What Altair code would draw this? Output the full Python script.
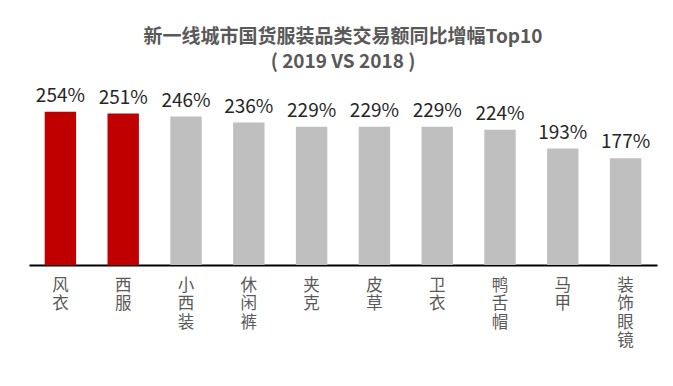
import altair as alt
import pandas as pd

categories = ["风衣", "西服", "小西装", "休闲裤", "夹克", "皮草", "卫衣", "鸭舌帽", "马甲", "装饰眼镜"]
values = [254, 251, 246, 236, 229, 229, 229, 224, 193, 177]
labels = ["254%", "251%", "246%", "236%", "229%", "229%", "229%", "224%", "193%", "177%"]
highlight = ["red", "red", "gray", "gray", "gray", "gray", "gray", "gray", "gray", "gray"]

df = pd.DataFrame({"cat": categories, "val": values, "label": labels, "hl": highlight})

FONT = "Noto Sans CJK SC"

x = alt.X(
    "cat:N",
    sort=categories,
    scale=alt.Scale(paddingInner=0.5, paddingOuter=0.25),
    axis=alt.Axis(
        title=None,
        labelAngle=0,
        ticks=False,
        domainColor="#000000",
        domainWidth=2,
        labelFont=FONT,
        labelFontSize=16.5,
        labelColor="#595959",
        labelPadding=12,
        labelLineHeight=18.5,
        labelBaseline="top",
        labelExpr="split(datum.label, '')",
    ),
)
y = alt.Y("val:Q", scale=alt.Scale(domain=[0, 300]), axis=None)

bars = alt.Chart(df).mark_bar().encode(
    x=x,
    y=y,
    color=alt.Color(
        "hl:N",
        scale=alt.Scale(domain=["red", "gray"], range=["#C00000", "#BFBFBF"]),
        legend=None,
    ),
)

text = alt.Chart(df).mark_text(
    baseline="bottom", dy=-6, font=FONT, fontSize=19, color="#262626"
).encode(x=x, y=y, text="label:N")

chart = (
    alt.layer(bars, text)
    .properties(
        width=628,
        height=181,
        autosize=alt.AutoSizeParams(type="none"),
        padding={"left": 21, "top": 76, "right": 8, "bottom": 113},
        title=alt.TitleParams(
            text=["新一线城市国货服装品类交易额同比增幅Top10", "( 2019 VS 2018 )"],
            font=FONT,
            fontSize=19,
            fontWeight="bold",
            color="#595959",
            anchor="middle",
            lineHeight=25,
            offset=12,
        ),
    )
    .configure_view(stroke=None)
)

chart.save("out.html", embed_options={"renderer": "svg", "actions": False})
